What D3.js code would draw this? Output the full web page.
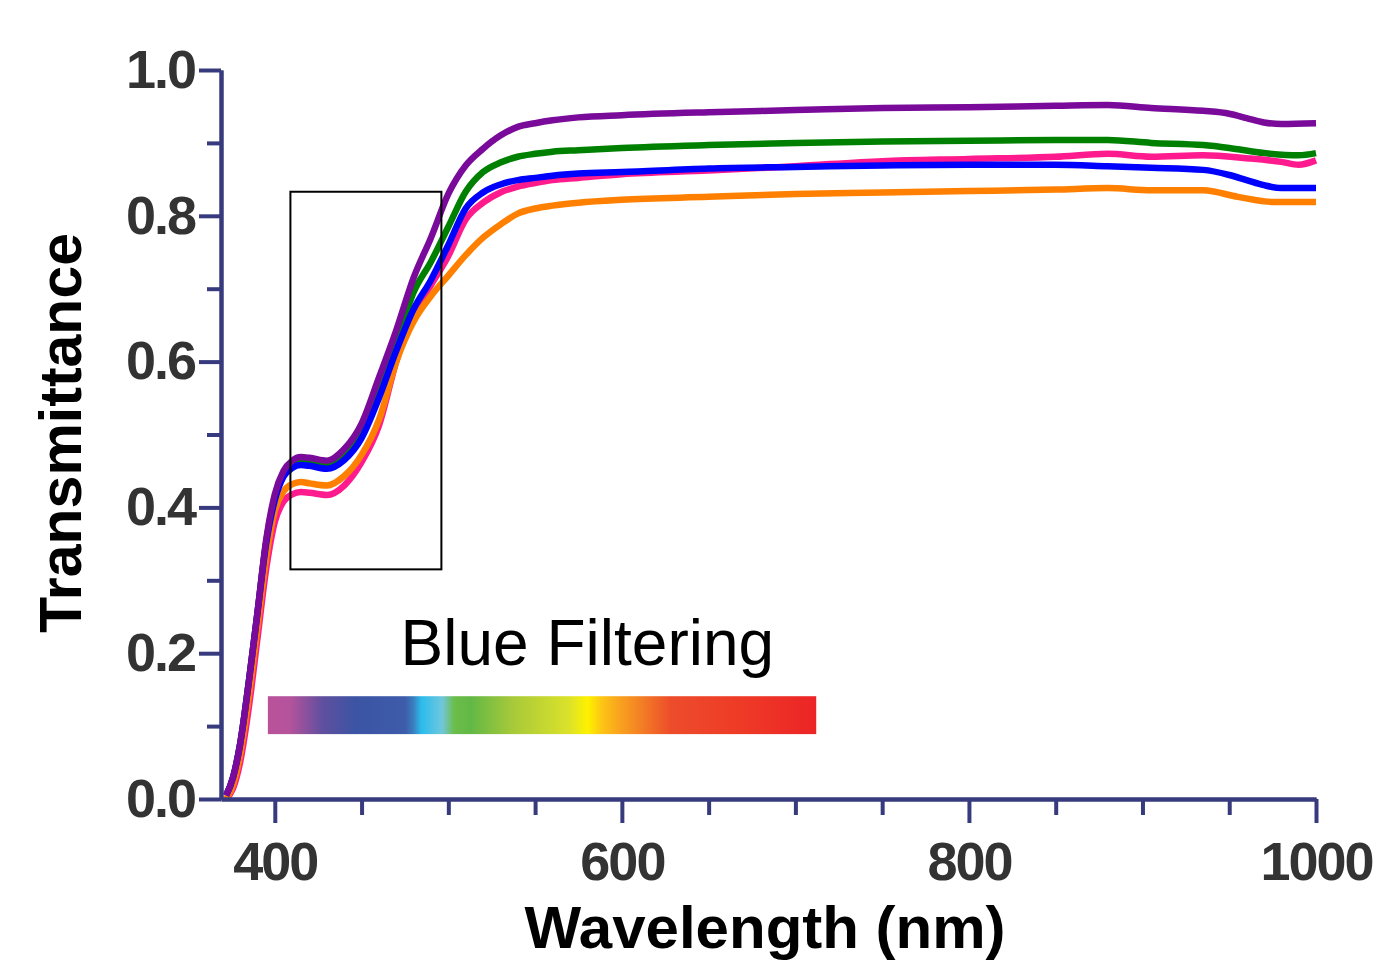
<!DOCTYPE html>
<html>
<head>
<meta charset="utf-8">
<script src="https://cdn.jsdelivr.net/npm/d3@7"></script>
<style>
  body { margin: 0; background: white; }
  text { font-family: Arial, "Liberation Sans", sans-serif; }
</style>
</head>
<body>
<div id="chart"></div>
<script>
// wavelength (nm), transmittance
const purple = [[372,0.005],[376,0.03],[380,0.075],[385,0.16],[390,0.255],[395,0.355],[400,0.418],[405,0.45],[410,0.464],[415,0.469],[420,0.468],[430,0.464],[440,0.48],[450,0.515],[460,0.578],[470,0.643],[480,0.715],[490,0.77],[500,0.83],[510,0.869],[520,0.892],[530,0.91],[540,0.922],[550,0.927],[560,0.931],[575,0.935],[600,0.938],[650,0.942],[700,0.945],[750,0.948],[800,0.949],[850,0.951],[880,0.952],[905,0.948],[935,0.944],[950,0.94],[960,0.934],[970,0.928],[980,0.926],[1000,0.927]];
const green = [[372,0.005],[376,0.03],[380,0.075],[385,0.16],[390,0.255],[395,0.352],[400,0.413],[405,0.445],[410,0.458],[415,0.462],[420,0.461],[430,0.457],[440,0.47],[450,0.5],[460,0.56],[470,0.625],[480,0.695],[490,0.737],[500,0.785],[510,0.833],[520,0.86],[530,0.873],[540,0.881],[550,0.885],[560,0.888],[575,0.89],[600,0.893],[650,0.897],[700,0.9],[750,0.902],[800,0.903],[850,0.904],[880,0.904],[905,0.9],[935,0.897],[950,0.893],[970,0.886],[990,0.883],[1000,0.886]];
const blue = [[372,0.005],[376,0.03],[380,0.075],[385,0.16],[390,0.255],[395,0.35],[400,0.41],[405,0.442],[410,0.454],[415,0.458],[420,0.457],[430,0.453],[440,0.465],[450,0.495],[460,0.55],[470,0.615],[480,0.672],[490,0.712],[500,0.76],[510,0.81],[520,0.832],[530,0.843],[540,0.849],[550,0.852],[560,0.855],[575,0.858],[600,0.86],[650,0.865],[700,0.867],[750,0.869],[800,0.87],[850,0.87],[880,0.868],[905,0.866],[935,0.863],[950,0.856],[960,0.849],[970,0.842],[980,0.838],[1000,0.838]];
const pink = [[372,0],[376,0.015],[380,0.05],[385,0.125],[390,0.22],[395,0.315],[400,0.38],[405,0.408],[410,0.418],[415,0.421],[420,0.42],[430,0.417],[440,0.43],[450,0.462],[460,0.512],[470,0.6],[480,0.665],[490,0.705],[500,0.745],[510,0.795],[520,0.818],[530,0.832],[540,0.84],[550,0.845],[560,0.849],[575,0.852],[600,0.857],[650,0.862],[700,0.868],[750,0.875],[800,0.878],[850,0.881],[880,0.885],[905,0.881],[935,0.883],[960,0.879],[980,0.874],[990,0.87],[1000,0.876]];
const orange = [[372,0],[376,0.02],[380,0.06],[385,0.14],[390,0.235],[395,0.33],[400,0.395],[405,0.422],[410,0.432],[415,0.435],[420,0.433],[430,0.43],[440,0.443],[450,0.472],[460,0.52],[470,0.6],[480,0.655],[490,0.69],[500,0.718],[510,0.746],[520,0.77],[530,0.788],[540,0.803],[550,0.81],[560,0.814],[575,0.818],[600,0.822],[650,0.826],[700,0.83],[750,0.832],[800,0.834],[850,0.836],[880,0.838],[905,0.835],[935,0.835],[955,0.826],[975,0.819],[1000,0.819]];

const seriesNames = ['green', 'pink', 'orange', 'blue', 'purple'];
const seriesData = [green, pink, orange, blue, purple];
const seriesColors = ['#008000', '#ff1b8d', '#ff8000', '#0000ff', '#7a0a9a'];

const xMajor = [400, 600, 800, 1000];
const xMinor = [450, 500, 550, 650, 700, 750, 850, 900, 950];
const yMajor = [0, 0.2, 0.4, 0.6, 0.8, 1.0];
const yMinor = [0.1, 0.3, 0.5, 0.7, 0.9];

// highlighted box and visible spectrum bar, in data units
const boxNm = [409, 496];
const boxT = [0.315, 0.833];
const barNm = [396, 712];
const barT = [0.089, 0.141];
const spectrumStops = [
  [0, '#b9529b'], [0.04, '#b5539c'], [0.10, '#5f4f9f'], [0.16, '#3c54a4'],
  [0.25, '#3d5ca9'], [0.265, '#3b7dbf'], [0.28, '#2bbcec'], [0.318, '#70c7dc'],
  [0.34, '#6cbd4a'], [0.37, '#62b846'], [0.445, '#a6c93a'], [0.55, '#dce22a'],
  [0.583, '#fef200'], [0.61, '#fcc414'], [0.64, '#f9a41e'], [0.683, '#f37d25'],
  [0.735, '#ed4c2b'], [0.86, '#ee3b27'], [1, '#ec2426']
];

const width = 1384, height = 963;
const axisColor = '#373b7e';

const svg = d3.select('#chart')
  .append('svg')
  .attr('width', width)
  .attr('height', height)
  .style('background', 'white');

const x = d3.scaleLinear().domain([369, 1000]).range([221, 1316]);
const y = d3.scaleLinear().domain([0, 1]).range([799, 70]);

// spectrum gradient
const grad = svg.append('defs').append('linearGradient')
  .attr('id', 'spectrum')
  .attr('x1', '0%').attr('x2', '100%').attr('y1', '0%').attr('y2', '0%');
grad.selectAll('stop')
  .data(spectrumStops)
  .enter()
  .append('stop')
  .attr('offset', d => d[0])
  .attr('stop-color', d => d[1]);

svg.append('rect')
  .attr('x', x(barNm[0]))
  .attr('y', y(barT[1]))
  .attr('width', x(barNm[1]) - x(barNm[0]))
  .attr('height', y(barT[0]) - y(barT[1]))
  .attr('fill', 'url(#spectrum)');

svg.append('text')
  .attr('x', x(472.5))
  .attr('y', y(0.184))
  .attr('font-size', 64)
  .attr('fill', 'black')
  .text('Blue Filtering');

// curves
const line = d3.line()
  .x(d => x(d[0]))
  .y(d => y(d[1]))
  .curve(d3.curveMonotoneX);

svg.selectAll('.series')
  .data(seriesData)
  .enter()
  .append('path')
  .attr('class', (d, i) => 'series ' + seriesNames[i])
  .attr('d', line)
  .attr('fill', 'none')
  .attr('stroke', (d, i) => seriesColors[i])
  .attr('stroke-width', 6.5)
  .attr('stroke-linejoin', 'round');

// box
svg.append('rect')
  .attr('x', x(boxNm[0]))
  .attr('y', y(boxT[1]))
  .attr('width', x(boxNm[1]) - x(boxNm[0]))
  .attr('height', y(boxT[0]) - y(boxT[1]))
  .attr('fill', 'none')
  .attr('stroke', 'black')
  .attr('stroke-width', 2);

// axes
function styleAxis(g) {
  g.select('.domain').attr('stroke', axisColor).attr('stroke-width', 4);
  g.selectAll('.tick line').attr('stroke', axisColor).attr('stroke-width', 4);
  g.selectAll('.tick text')
    .attr('fill', '#333')
    .attr('font-size', 54)
    .attr('font-weight', 'bold')
    .attr('letter-spacing', -2)
    .style('font-family', 'Arial, "Liberation Sans", sans-serif');
}

svg.append('g')
  .attr('transform', `translate(0,${y(0)})`)
  .call(d3.axisBottom(x).tickValues(xMinor).tickSize(16).tickSizeOuter(0).tickFormat(''))
  .call(styleAxis);

svg.append('g')
  .attr('transform', `translate(0,${y(0)})`)
  .call(d3.axisBottom(x).tickValues(xMajor).tickSize(24).tickSizeOuter(0).tickPadding(19).tickFormat(d3.format('d')))
  .call(styleAxis);

svg.append('g')
  .attr('transform', `translate(${x(369)},0)`)
  .call(d3.axisLeft(y).tickValues(yMinor).tickSize(14).tickSizeOuter(0).tickFormat(''))
  .call(styleAxis);

svg.append('g')
  .attr('transform', `translate(${x(369)},0)`)
  .call(d3.axisLeft(y).tickValues(yMajor).tickSize(22).tickSizeOuter(0).tickPadding(4).tickFormat(d3.format('.1f')))
  .call(styleAxis);

// axis titles
svg.append('text')
  .attr('x', 765)
  .attr('y', 948)
  .attr('text-anchor', 'middle')
  .attr('font-size', 60)
  .attr('font-weight', 'bold')
  .attr('fill', 'black')
  .text('Wavelength (nm)');

svg.append('text')
  .attr('transform', 'translate(81,433) rotate(-90)')
  .attr('text-anchor', 'middle')
  .attr('font-size', 59)
  .attr('font-weight', 'bold')
  .attr('fill', 'black')
  .text('Transmittance');
</script>
</body>
</html>
